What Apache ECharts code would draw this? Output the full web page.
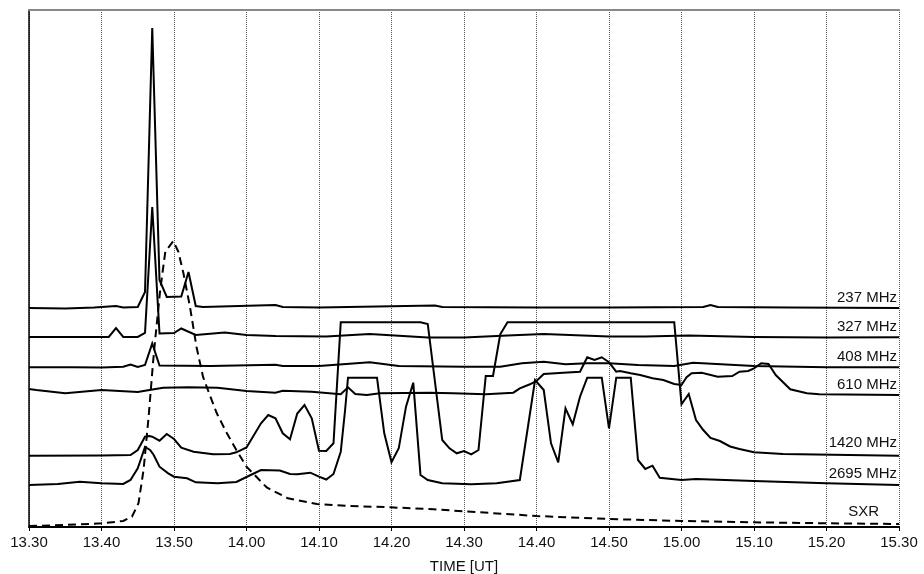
<!DOCTYPE html>
<html><head><meta charset="utf-8">
<script src="https://cdn.jsdelivr.net/npm/echarts@6/dist/echarts.min.js"></script>
<style>html,body{margin:0;padding:0;background:#fff}#c{width:924px;height:574px}</style>
</head><body><div id="c"></div>
<script>
// time axis: minutes after 13:30 UT; values: relative trace heights (stacked, arbitrary units)
const tickLabels = ['13.30','13.40','13.50','14.00','14.10','14.20','14.30','14.40','14.50','15.00','15.10','15.20','15.30'];
const seriesNames = ['237 MHz','327 MHz','408 MHz','610 MHz','1420 MHz','2695 MHz','SXR'];

const s237 = [[0,219],[5,218.5],[9,219.5],[12,221],[13,219.5],[15,220],[16,235],[17,499],[18,247],[19,230],[21,230.5],[22,255],[23,221],[24,220],[29,221],[34,222],[35,220],[40,219.5],[56,221.5],[57,220],[70,219.5],[80,219.5],[93,220],[94,222],[95,220],[105,219.5],[120,219]];
const s327 = [[0,190],[11,190],[12,199],[13,190],[15,190],[16,194],[17,320],[18,193.5],[20,194],[21,198.5],[23,192],[27,194.5],[30,192],[34,191],[41,190.5],[47,193],[55,189.5],[60,189.5],[66,191.5],[71,193],[80,190.5],[85,190.5],[91,191.5],[100,190],[110,189.5],[120,189.7]];
const s408 = [[0,159.7],[6,159.7],[10,159.5],[13,160.2],[14,162.5],[15,160],[16,162],[17,183.5],[18,161.5],[25,161],[34,162.3],[35,161],[40,161],[47,164.7],[51,161],[60,160.3],[65,160.3],[68,163.7],[71,165.3],[74,162.7],[77,163.7],[80,163.7],[84,162],[89,161],[91.6,164.3],[100,161],[110,159.7],[120,159.7]];
const s610 = [[0,138],[1,137],[5,133.7],[10,137],[15,135],[16,136.3],[18.5,139.3],[22,139.7],[26,139.3],[30,136],[34,134.3],[35,136.3],[39,135.3],[43,132.7],[44,139.7],[45,133],[46.6,132],[48.4,133.7],[55.3,134.3],[58.5,133.7],[63,132.7],[66.8,134.3],[67.7,138.7],[69.1,142.7],[70,146],[71,153],[73.7,154.3],[76,155.3],[77,169.7],[78,167],[79,169.7],[80,164.7],[81,155.3],[81.5,156],[83,153.7],[84.3,152],[86,148.7],[87.5,147],[89,143],[90,142],[90.7,149.7],[91.4,153.7],[92.8,154.3],[95,150.3],[97,151],[98,155.3],[99.2,156],[100,158.7],[101,163.7],[102,163],[103,152],[105,137.7],[107.3,133.7],[109,132.7],[120,132]];
const s1420 = [[0,71.3],[10,71.5],[14,72],[15,77],[16,90.3],[16.6,91],[17,90.3],[18,86.3],[19,93],[20,88],[21,79.3],[22.7,75.3],[25.4,72.7],[27.7,73],[28.6,74.7],[30,79.5],[32,103.7],[33,112],[34,108.7],[35,93.7],[36,87.7],[37,113.5],[38,122],[39,108.7],[40,76.3],[41,76],[42,83.7],[43,204.7],[54,204.7],[55,203],[57,87],[58,78.7],[59,73.7],[60,76],[61,72.7],[62,77],[63,151],[64,151],[65,192.7],[66,204.7],[89,204.7],[90,122.7],[91,133],[92,107],[93,97],[94,89],[95.3,86],[96.7,80.5],[98,78],[100,74.7],[104,73],[120,71.3]];
const s2695 = [[0,42],[4,43],[7,45.3],[10,43.7],[13,43],[14,47],[15,58.7],[16,80],[16.7,77],[17.2,72],[18,60.3],[19.2,53.7],[20,50.3],[21.8,48.7],[23,44.7],[26,43.7],[28.6,45],[30,50],[32,57],[34.6,56.5],[36,53],[37,52.7],[38.8,54.3],[40,50.3],[41,47.5],[42,53],[43,75.3],[43.6,117],[44,149.3],[48,149.3],[49,93.7],[50,64.7],[51,78.7],[52,120.3],[53,144.3],[54,52],[55,47],[57,43.7],[61,42.7],[64.5,43.7],[67.7,47],[69.8,147],[71,137],[72,83.7],[73,64.7],[74,118.7],[75,102.7],[76,130.3],[77,149.3],[79,149.3],[80,98.7],[81,149.3],[83,149.3],[84,67],[85,58],[86,61.3],[87,49.3],[90,47],[92,48],[100,46],[110,43.7],[120,42]];
const sSXR = [[0,1],[5,2],[10,3.7],[13,6],[14.2,10.3],[15.1,23.7],[15.8,57],[16.5,110.3],[17.1,163.7],[17.4,187],[18.1,237],[18.8,275.3],[19.9,286],[20.6,275.3],[21.3,253.7],[22.2,220.3],[23.1,180.3],[24,150.3],[24.5,140.3],[25.9,113.7],[27.3,93.7],[28.6,77],[30,60.3],[32.8,39.5],[35.7,28.7],[39.7,23],[44.3,21],[49.8,19.7],[55.8,17.7],[62.2,14.7],[70,11],[80,8],[90,6],[100,4.7],[110,3.7],[120,3]];

const seriesData = [s237, s327, s408, s610, s1420, s2695, sSXR];

const FONT = '"Liberation Sans", Arial, sans-serif';
const chart = echarts.init(document.getElementById('c'), null, {renderer: 'canvas'});

const series = seriesData.map((d, i) => ({
  name: seriesNames[i], type: 'line', data: d, symbol: 'none', showSymbol: false, silent: true,
  smooth: false,
  lineStyle: {color: '#000', width: 2, type: i === 6 ? [8, 5] : 'solid', join: 'miter', miterLimit: 4, cap: 'butt'},
  z: 3
}));

chart.setOption({
  animation: false,
  backgroundColor: '#fff',
  grid: {left: 29, right: 25, top: 10, bottom: 47, containLabel: false, outerBoundsMode: 'none'},
  xAxis: [{
    type: 'value', min: 0, max: 120, interval: 10,
    name: 'TIME [UT]', nameLocation: 'middle', nameGap: 32,
    nameTextStyle: {fontFamily: FONT, fontSize: 15, color: '#111'},
    axisLine: {show: true, lineStyle: {color: '#000', width: 2}},
    axisTick: {show: true, length: 4, lineStyle: {color: '#000', width: 1}},
    axisLabel: {formatter: v => tickLabels[Math.round(v / 10)], fontFamily: FONT, fontSize: 15, color: '#111', margin: 8},
    splitLine: {show: true, lineStyle: {type: 'dotted', color: '#555', width: 1}}
  }, {
    type: 'value', position: 'top', min: 0, max: 120,
    axisLine: {show: true, lineStyle: {color: '#888', width: 2}},
    axisTick: {show: false}, axisLabel: {show: false}, splitLine: {show: false}
  }],
  yAxis: [{
    type: 'value', min: 0, max: 517,
    axisLine: {show: true, lineStyle: {color: '#000', width: 1.5}},
    axisTick: {show: false}, axisLabel: {show: false}, splitLine: {show: false}
  }],
  series: series
});

// trace labels placed just above each trace's right end
const labelDy = [-10, -10, -10, -10, -13, -11, -12.5];
const labelDx = [-2, -2, -2, -2, -2, -2, -20];
const graphics = seriesData.map((d, i) => {
  const last = d[d.length - 1];
  const p = chart.convertToPixel({xAxisIndex: 0, yAxisIndex: 0}, last);
  return {
    type: 'text', silent: true, z: 10,
    x: p[0] + labelDx[i], y: p[1] + labelDy[i],
    style: {text: seriesNames[i], font: '15px ' + FONT, fill: '#111', align: 'right', verticalAlign: 'middle'}
  };
});
chart.setOption({graphic: graphics});
</script>
</body></html>
